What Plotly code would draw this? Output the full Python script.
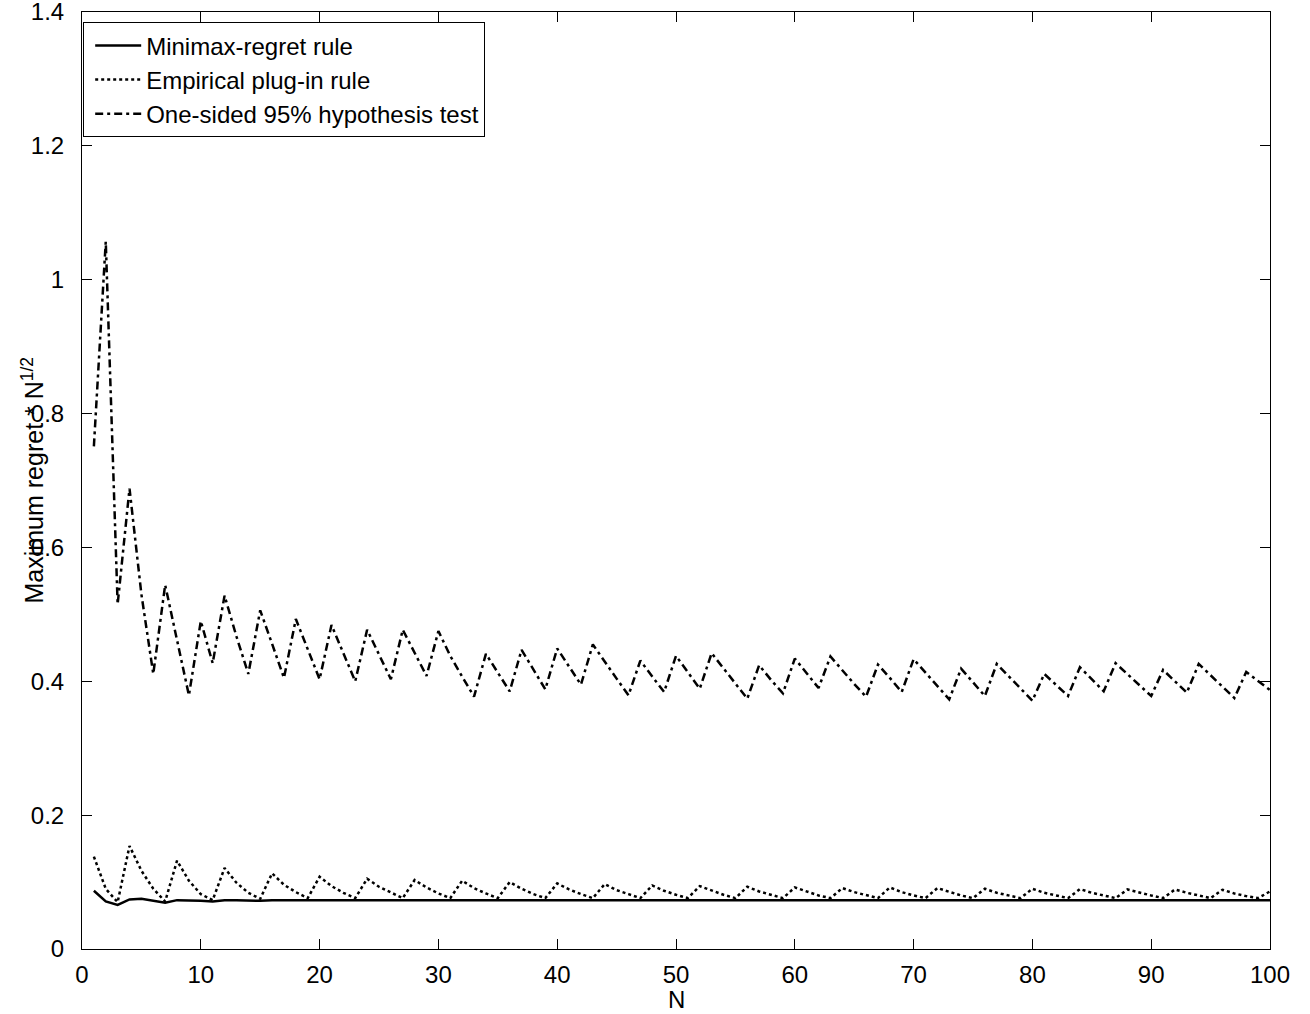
import plotly.graph_objects as go

N = list(range(1, 101))

minimax_regret = [
    0.087, 0.071, 0.066, 0.074, 0.075, 0.072, 0.069, 0.073, 0.073, 0.072,
    0.071, 0.073, 0.073, 0.072, 0.072, 0.073, 0.073, 0.072, 0.072, 0.073,
    0.073, 0.072, 0.072, 0.073, 0.073, 0.072, 0.072, 0.073, 0.073, 0.072,
    0.072, 0.073, 0.073, 0.072, 0.072, 0.073, 0.073, 0.072, 0.072, 0.073,
    0.073, 0.072, 0.072, 0.073, 0.073, 0.072, 0.072, 0.073, 0.073, 0.072,
    0.072, 0.073, 0.073, 0.072, 0.072, 0.073, 0.073, 0.072, 0.072, 0.073,
    0.073, 0.072, 0.072, 0.073, 0.073, 0.072, 0.072, 0.073, 0.073, 0.072,
    0.072, 0.073, 0.073, 0.072, 0.072, 0.073, 0.073, 0.072, 0.072, 0.073,
    0.073, 0.072, 0.072, 0.073, 0.073, 0.072, 0.072, 0.073, 0.073, 0.072,
    0.072, 0.073, 0.073, 0.072, 0.072, 0.073, 0.073, 0.072, 0.072, 0.073,
]

empirical_plugin = [
    0.138, 0.090, 0.070, 0.154, 0.117, 0.090, 0.071, 0.132, 0.102, 0.082,
    0.073, 0.121, 0.099, 0.084, 0.075, 0.113, 0.096, 0.085, 0.076, 0.108,
    0.094, 0.084, 0.076, 0.105, 0.093, 0.084, 0.076, 0.103, 0.092, 0.083,
    0.076, 0.102, 0.091, 0.083, 0.076, 0.100, 0.090, 0.082, 0.076, 0.098,
    0.089, 0.082, 0.076, 0.097, 0.088, 0.082, 0.076, 0.095, 0.087, 0.081,
    0.076, 0.094, 0.087, 0.081, 0.076, 0.093, 0.086, 0.081, 0.076, 0.092,
    0.086, 0.080, 0.076, 0.091, 0.085, 0.080, 0.076, 0.092, 0.085, 0.080,
    0.076, 0.091, 0.085, 0.080, 0.076, 0.090, 0.084, 0.080, 0.076, 0.090,
    0.084, 0.080, 0.076, 0.0895, 0.084, 0.080, 0.076, 0.089, 0.084, 0.080,
    0.076, 0.089, 0.084, 0.080, 0.076, 0.0885, 0.083, 0.079, 0.076, 0.086,
]

hypothesis_test = [
    0.751, 1.057, 0.515, 0.688, 0.530, 0.411, 0.544, 0.461, 0.379, 0.490,
    0.427, 0.528, 0.467, 0.411, 0.506, 0.456, 0.405, 0.493, 0.448, 0.403,
    0.484, 0.443, 0.400, 0.477, 0.440, 0.403, 0.477, 0.443, 0.408, 0.475,
    0.438, 0.407, 0.377, 0.441, 0.413, 0.385, 0.447, 0.417, 0.388, 0.449,
    0.422, 0.395, 0.455, 0.429, 0.404, 0.379, 0.431, 0.407, 0.384, 0.438,
    0.414, 0.389, 0.442, 0.419, 0.396, 0.374, 0.424, 0.402, 0.382, 0.434,
    0.412, 0.390, 0.437, 0.416, 0.396, 0.377, 0.425, 0.405, 0.384, 0.433,
    0.413, 0.393, 0.373, 0.419, 0.398, 0.378, 0.426, 0.408, 0.389, 0.371,
    0.411, 0.394, 0.378, 0.421, 0.403, 0.385, 0.427, 0.411, 0.394, 0.378,
    0.417, 0.400, 0.383, 0.426, 0.409, 0.391, 0.375, 0.414, 0.401, 0.387,
]

series_names = ["Minimax-regret rule", "Empirical plug-in rule", "One-sided 95% hypothesis test"]

x_ticks = [0, 10, 20, 30, 40, 50, 60, 70, 80, 90, 100]
y_ticks = [0, 0.2, 0.4, 0.6, 0.8, 1.0, 1.2, 1.4]
y_tick_labels = ["0", "0.2", "0.4", "0.6", "0.8", "1", "1.2", "1.4"]

FONT = "Liberation Sans, Arial, Helvetica, sans-serif"

fig = go.Figure()
fig.add_trace(go.Scatter(x=N, y=minimax_regret, mode="lines", name=series_names[0],
                         line=dict(color="black", width=2.5, dash="solid")))
fig.add_trace(go.Scatter(x=N, y=empirical_plugin, mode="lines", name=series_names[1],
                         line=dict(color="black", width=2.5, dash="dot")))
fig.add_trace(go.Scatter(x=N, y=hypothesis_test, mode="lines", name=series_names[2],
                         line=dict(color="black", width=2.5, dash="8px,4px,3px,4px")))

axis_common = dict(
    showline=True, linecolor="black", linewidth=1, mirror="ticks",
    ticks="inside", ticklen=10, tickwidth=1, tickcolor="black",
    showgrid=False, zeroline=False, ticklabeloverflow="allow", automargin=False,
    tickfont=dict(family=FONT, size=24, color="black"),
)

fig.update_xaxes(range=[0, 100], tickmode="array", tickvals=x_ticks,
                 ticklabelstandoff=4, **axis_common)
fig.update_yaxes(range=[0, 1.4], tickmode="array", tickvals=y_ticks, ticktext=y_tick_labels,
                 ticklabelstandoff=12, **axis_common)

fig.add_annotation(text="N", xref="paper", yref="paper", x=0.5, y=0, yshift=-50,
                   xanchor="center", yanchor="middle", showarrow=False,
                   font=dict(family=FONT, size=24, color="black"))
fig.add_annotation(text="Maximum regret * N<sup>1/2</sup>", xref="paper", yref="paper",
                   x=0, y=0.5, xshift=-50, xanchor="center", yanchor="middle",
                   textangle=-90, showarrow=False,
                   font=dict(family=FONT, size=25, color="black"))

fig.update_layout(
    width=1310, height=1014,
    margin=dict(l=82, r=40, t=12, b=65, autoexpand=False),
    paper_bgcolor="white", plot_bgcolor="white",
    font=dict(family=FONT, color="black"),
    showlegend=True,
    legend=dict(x=0.001, y=0.989, xanchor="left", yanchor="top",
                bgcolor="white", bordercolor="black", borderwidth=1,
                font=dict(family=FONT, size=24, color="black"),
                tracegroupgap=0, itemwidth=46, indentation=6),
)

fig.write_html("out.html", config={"displayModeBar": False},
               post_script="document.body.style.margin='0';document.body.style.overflow='hidden';")
